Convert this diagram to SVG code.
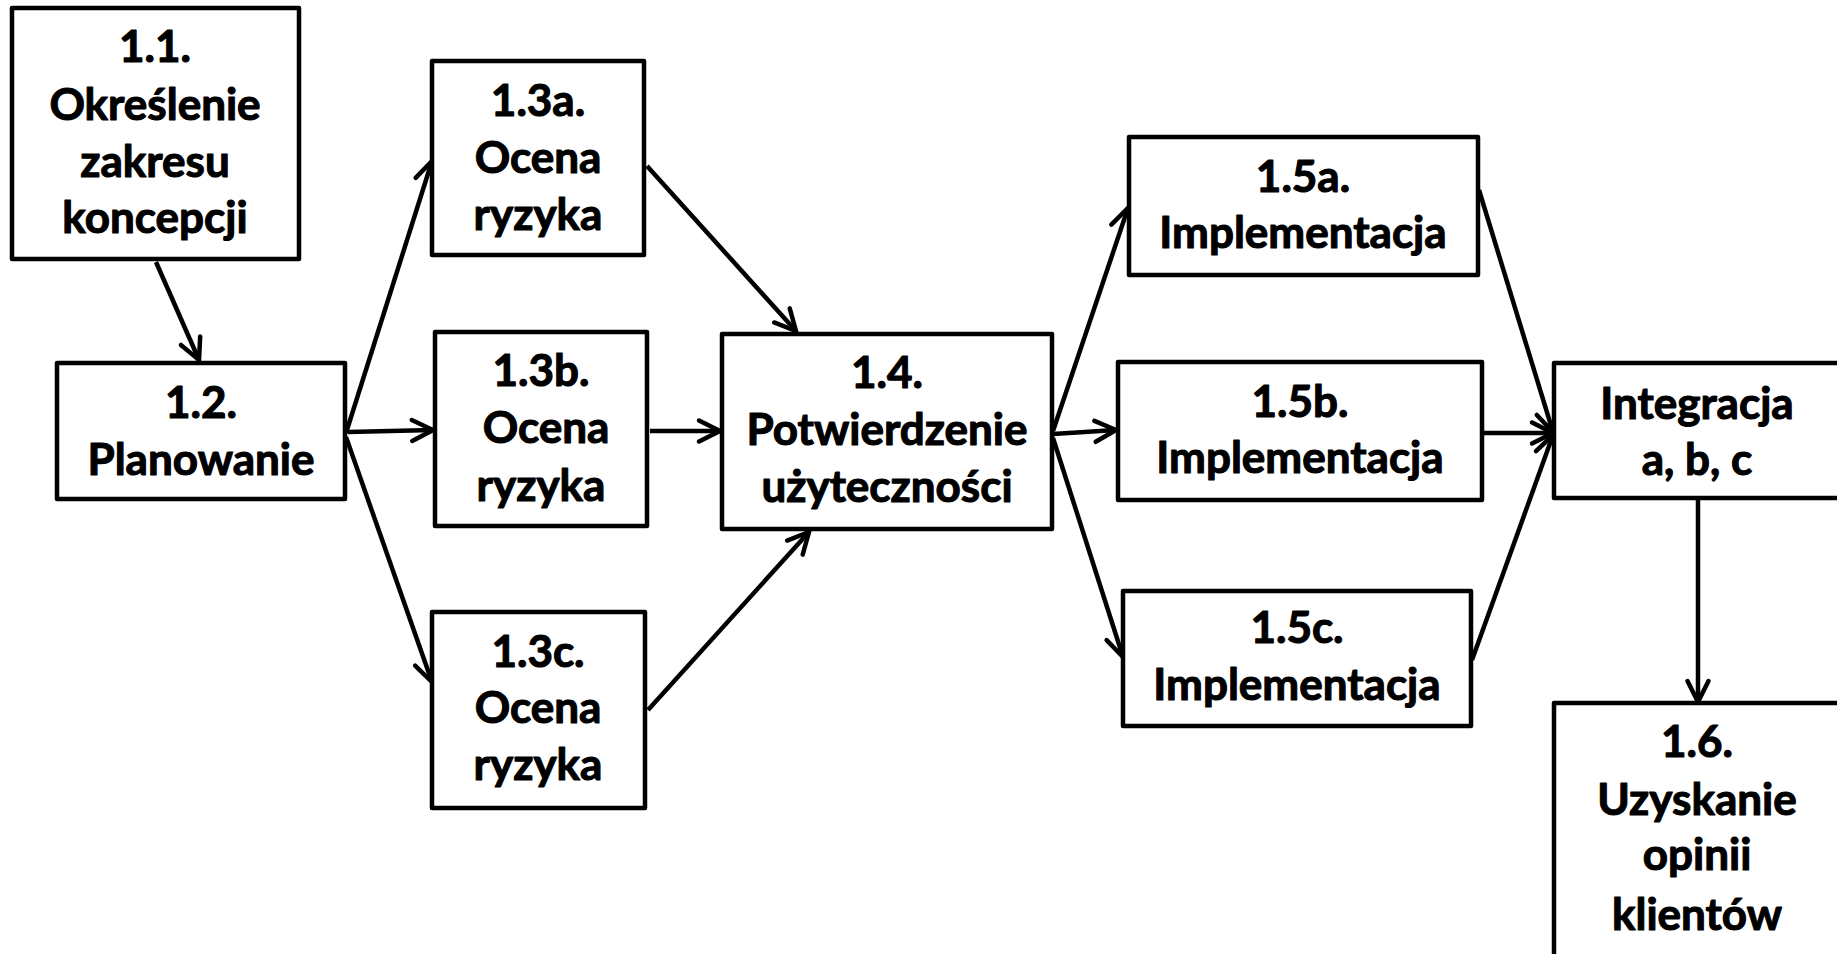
<svg xmlns="http://www.w3.org/2000/svg" width="1837" height="954" viewBox="0 0 1837 954">
<style>
.box{fill:#fff;stroke:#000;stroke-width:4.5;stroke-linejoin:round}
.t{font-family:Lato,"Liberation Sans",sans-serif;font-weight:bold;font-size:44px;text-anchor:middle;fill:#000;stroke:#000;stroke-width:1.1;stroke-linejoin:round}
.c{stroke:#000;stroke-width:4.5;fill:none;marker-end:url(#ah)}
</style>
<defs>
<marker id="ah" markerUnits="userSpaceOnUse" viewBox="-24 -13 27 26" refX="0" refY="0" markerWidth="27" markerHeight="26" orient="auto" overflow="visible">
<path d="M-21,-10.5 L0,0 L-21,10.5" fill="none" stroke="#000" stroke-width="4.5" stroke-linecap="round" stroke-linejoin="miter"/>
</marker>
</defs>
<rect width="1837" height="954" fill="#fff"/>
<g id="connectors">
<line class="c" x1="156" y1="262" x2="199" y2="360"/>
<line class="c" x1="346" y1="433" x2="432" y2="161"/>
<line class="c" x1="348" y1="432" x2="433" y2="430"/>
<line class="c" x1="346" y1="437" x2="432" y2="682"/>
<line class="c" x1="647" y1="166" x2="796" y2="331"/>
<line class="c" x1="650" y1="431" x2="720" y2="431"/>
<line class="c" x1="648" y1="710" x2="809" y2="532"/>
<line class="c" x1="1053" y1="431" x2="1128" y2="208"/>
<line class="c" x1="1053" y1="434" x2="1116" y2="430"/>
<line class="c" x1="1053" y1="438" x2="1123" y2="657"/>
<line class="c" x1="1479" y1="190" x2="1553" y2="432"/>
<line class="c" x1="1483" y1="433" x2="1553" y2="433"/>
<line class="c" x1="1472" y1="660" x2="1553" y2="435"/>
<line class="c" x1="1698" y1="499" x2="1698" y2="702"/>
</g>
<g id="n11"><rect class="box" x="12" y="8" width="287" height="251"/>
<text class="t" x="155" y="62">1.1.</text><text class="t" x="155" y="120">Określenie</text><text class="t" x="155" y="177">zakresu</text><text class="t" x="155" y="233">koncepcji</text></g>
<g id="n12"><rect class="box" x="57" y="363" width="288" height="136"/>
<text class="t" x="201" y="418">1.2.</text><text class="t" x="201" y="475">Planowanie</text></g>
<g id="n13a"><rect class="box" x="432" y="61" width="212" height="194"/>
<text class="t" x="538" y="116">1.3a.</text><text class="t" x="538" y="173">Ocena</text><text class="t" x="538" y="230">ryzyka</text></g>
<g id="n13b"><rect class="box" x="435" y="332" width="212" height="194"/>
<text class="t" x="541" y="386">1.3b.</text><text class="t" x="546" y="443">Ocena</text><text class="t" x="541" y="501">ryzyka</text></g>
<g id="n13c"><rect class="box" x="432" y="612" width="213" height="196"/>
<text class="t" x="538" y="667">1.3c.</text><text class="t" x="538" y="723">Ocena</text><text class="t" x="538" y="780">ryzyka</text></g>
<g id="n14"><rect class="box" x="722" y="334" width="330" height="195"/>
<text class="t" x="887" y="388">1.4.</text><text class="t" x="887" y="445">Potwierdzenie</text><text class="t" x="887" y="502">użyteczności</text></g>
<g id="n15a"><rect class="box" x="1129" y="137" width="349" height="138"/>
<text class="t" x="1303" y="192">1.5a.</text><text class="t" x="1303" y="248">Implementacja</text></g>
<g id="n15b"><rect class="box" x="1118" y="362" width="364" height="138"/>
<text class="t" x="1300" y="417">1.5b.</text><text class="t" x="1300" y="473">Implementacja</text></g>
<g id="n15c"><rect class="box" x="1123" y="591" width="348" height="135"/>
<text class="t" x="1297" y="643">1.5c.</text><text class="t" x="1297" y="700">Implementacja</text></g>
<g id="nint"><rect class="box" x="1554" y="363" width="290" height="135"/>
<text class="t" x="1697" y="419">Integracja</text><text class="t" x="1697" y="475">a, b, c</text></g>
<g id="n16"><rect class="box" x="1554" y="703" width="290" height="260"/>
<text class="t" x="1697" y="757">1.6.</text><text class="t" x="1697" y="815">Uzyskanie</text><text class="t" x="1697" y="870">opinii</text><text class="t" x="1697" y="930">klientów</text></g>
</svg>
